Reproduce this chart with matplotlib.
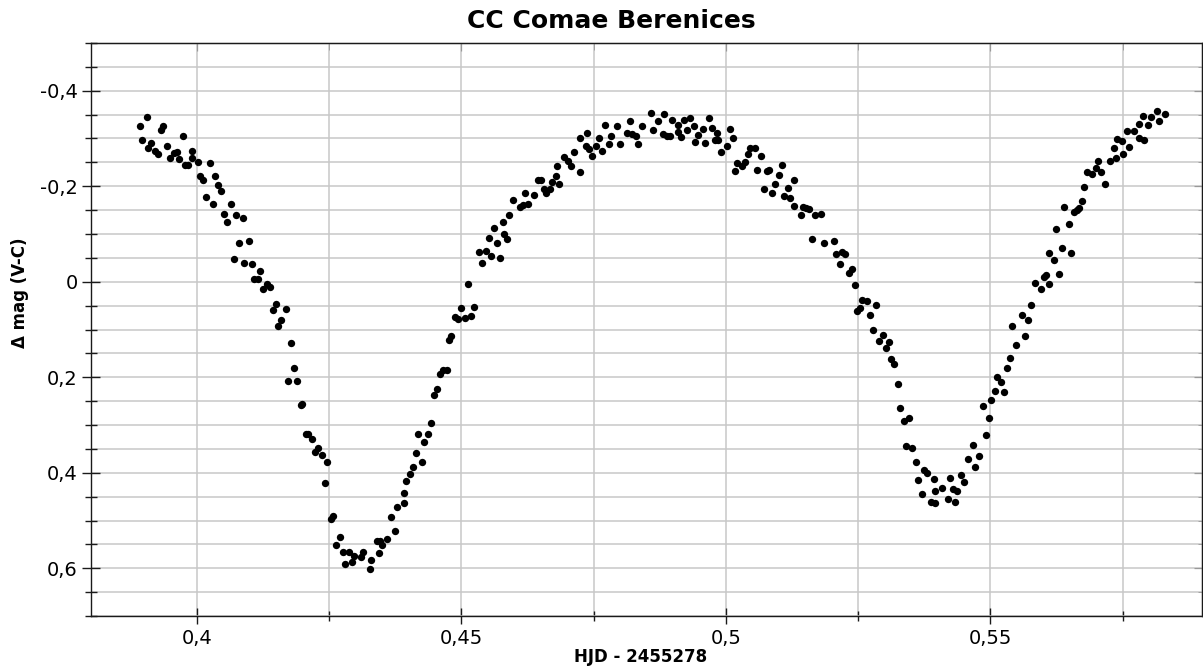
import matplotlib
matplotlib.use("Agg")
import matplotlib.pyplot as plt
from matplotlib.ticker import MultipleLocator, FuncFormatter

# HJD - 2455278 and delta mag (V-C)
hjd = [
    0.3905, 0.3892, 0.3933, 0.3937, 0.3973, 0.3897, 0.3914, 0.3908, 0.3943, 0.3921,
    0.3927, 0.3949, 0.3956, 0.3962, 0.3966, 0.3990, 0.3990, 0.3977, 0.3984, 0.4003,
    0.4024, 0.4006, 0.4011, 0.4035, 0.4040, 0.4046, 0.4017, 0.4030, 0.4065, 0.4052,
    0.4058, 0.4075, 0.4087, 0.4080, 0.4099, 0.4070, 0.4090, 0.4104, 0.4120, 0.4109,
    0.4116, 0.4133, 0.4139, 0.4126, 0.4149, 0.4144, 0.4168, 0.4160, 0.4154, 0.4178,
    0.4184, 0.4173, 0.4190, 0.4199, 0.4196, 0.4210, 0.4207, 0.4218, 0.4229, 0.4224,
    0.4237, 0.4247, 0.4242, 0.4258, 0.4253, 0.4270, 0.4264, 0.4277, 0.4287, 0.4281,
    0.4293, 0.4297, 0.4311, 0.4315, 0.4329, 0.4327, 0.4340, 0.4346, 0.4350, 0.4345,
    0.4360, 0.4374, 0.4368, 0.4392, 0.4378, 0.4391, 0.4396, 0.4403, 0.4408, 0.4425,
    0.4414, 0.4430, 0.4419, 0.4437, 0.4442, 0.4448, 0.4454, 0.4459, 0.4466, 0.4472,
    0.4476, 0.4481, 0.4500, 0.4488, 0.4493, 0.4506, 0.4518, 0.4523,
    0.4512, 0.4533, 0.4547, 0.4540, 0.4557, 0.4573, 0.4567, 0.4552, 0.4562, 0.4581,
    0.4586, 0.4579, 0.4590, 0.4597, 0.4610, 0.4617, 0.4626, 0.4620, 0.4638, 0.4645,
    0.4651, 0.4656, 0.4660, 0.4667, 0.4672, 0.4685, 0.4678, 0.4680, 0.4695, 0.4701,
    0.4708, 0.4713, 0.4725, 0.4724, 0.4737, 0.4735, 0.4742, 0.4747, 0.4755, 0.4760,
    0.4765, 0.4771, 0.4780, 0.4783, 0.4794, 0.4799, 0.4813, 0.4818, 0.4823, 0.4830,
    0.4834, 0.4841, 0.4858, 0.4863, 0.4871, 0.4881, 0.4884, 0.4889, 0.4894, 0.4899,
    0.4909, 0.4910, 0.4916, 0.4920, 0.4927, 0.4932, 0.4939, 0.4942, 0.4947, 0.4956,
    0.4961, 0.4969, 0.4974, 0.4979, 0.4985, 0.4984, 0.4990, 0.5003, 0.5008, 0.5014,
    0.5022, 0.5018,
    0.5046, 0.5055, 0.5042, 0.5066, 0.5036, 0.5031, 0.5059, 0.5077, 0.5081, 0.5106,
    0.5100, 0.5093, 0.5128, 0.5072, 0.5088, 0.5117, 0.5109, 0.5122, 0.5129, 0.5145,
    0.5151, 0.5157, 0.5142, 0.5168, 0.5180, 0.5162, 0.5185, 0.5204, 0.5209, 0.5219,
    0.5226, 0.5215, 0.5232, 0.5239, 0.5244, 0.5257, 0.5266, 0.5284, 0.5254, 0.5247,
    0.5272, 0.5278, 0.5297, 0.5289, 0.5308, 0.5302, 0.5312, 0.5318,
    0.5325, 0.5330, 0.5347, 0.5336, 0.5341, 0.5352, 0.5359, 0.5375, 0.5381, 0.5364,
    0.5394, 0.5371, 0.5396, 0.5408, 0.5423, 0.5444, 0.5450, 0.5429, 0.5436, 0.5388,
    0.5396, 0.5419, 0.5434, 0.5458, 0.5470, 0.5468, 0.5479, 0.5492, 0.5497, 0.5486,
    0.5502, 0.5508, 0.5512, 0.5520, 0.5526, 0.5532, 0.5537, 0.5549, 0.5541, 0.5560,
    0.5571, 0.5566, 0.5576,
    0.5584, 0.5595, 0.5602, 0.5606, 0.5611, 0.5630, 0.5620, 0.5611, 0.5635, 0.5653,
    0.5624, 0.5648, 0.5639, 0.5658, 0.5663, 0.5668, 0.5673, 0.5677, 0.5682, 0.5692,
    0.5699, 0.5709, 0.5717, 0.5704, 0.5726, 0.5733, 0.5738, 0.5751, 0.5762, 0.5740,
    0.5749, 0.5758, 0.5771, 0.5780, 0.5790, 0.5780, 0.5789, 0.5798, 0.5803, 0.5814,
    0.5819, 0.5830,
]
dmag = [
    -0.3453, -0.3270, -0.3187, -0.3270, -0.3061, -0.2977, -0.2908, -0.2794, -0.2851, -0.2732,
    -0.2677, -0.2600, -0.2698, -0.2719, -0.2579, -0.2732, -0.2600, -0.2453, -0.2453, -0.2501,
    -0.2488, -0.2208, -0.2124, -0.2222, -0.2027, -0.1908, -0.1782, -0.1621, -0.1621, -0.1426,
    -0.1258, -0.1390, -0.1342, -0.0803, -0.0853, -0.0476, -0.0384, -0.0363, -0.0216, -0.0063,
    -0.0057, 0.0048, 0.0105, 0.0161, 0.0476, 0.0587, 0.0566, 0.0811, 0.0922, 0.1273,
    0.1803, 0.2082, 0.2082, 0.2551, 0.2585, 0.3180, 0.3193, 0.3285, 0.3474, 0.3570,
    0.3633, 0.3767, 0.4220, 0.4906, 0.4962, 0.5352, 0.5507, 0.5667, 0.5667, 0.5918,
    0.5870, 0.5738, 0.5765, 0.5667, 0.5834, 0.6010, 0.5436, 0.5436, 0.5520, 0.5675,
    0.5381, 0.5214, 0.4933, 0.4627, 0.4723, 0.4430, 0.4172, 0.4019, 0.3872, 0.3780,
    0.3585, 0.3354, 0.3180, 0.3187, 0.2962, 0.2375, 0.2243, 0.1929, 0.1851, 0.1851,
    0.1216, 0.1132, 0.0560, 0.0734, 0.0776, 0.0769, 0.0713, 0.0530,
    0.0057, -0.0614, -0.0644, -0.0384, -0.0530, -0.0497, -0.0803, -0.0908, -0.1117, -0.1000,
    -0.0887, -0.1243, -0.1405, -0.1719, -0.1558, -0.1608, -0.1629, -0.1866, -0.1818, -0.2124,
    -0.2124, -0.1943, -0.1851, -0.1943, -0.2082, -0.2054, -0.2222, -0.2432, -0.2614, -0.2530,
    -0.2417, -0.2711, -0.2291, -0.3019, -0.3109, -0.2845, -0.2782, -0.2627, -0.2851, -0.3019,
    -0.2746, -0.3285, -0.2878, -0.3046, -0.3256, -0.2893, -0.3117, -0.3361, -0.3096, -0.3061,
    -0.2878, -0.3270, -0.3528, -0.3172, -0.3361, -0.3096, -0.3516, -0.3061, -0.3061, -0.3396,
    -0.3291, -0.3130, -0.3025, -0.3381, -0.3187, -0.3432, -0.3270, -0.2929, -0.3075, -0.3201,
    -0.2908, -0.3432, -0.3222, -0.2977, -0.2977, -0.3109, -0.2725, -0.2836, -0.3201, -0.3019,
    -0.2488, -0.2321,
    -0.2809, -0.2809, -0.2683, -0.2627, -0.2501, -0.2417, -0.2342, -0.2312, -0.2348, -0.2438,
    -0.2228, -0.2048, -0.2124, -0.1943, -0.1866, -0.1964, -0.1803, -0.1746, -0.1593, -0.1566,
    -0.1545, -0.1516, -0.1405, -0.1390, -0.1411, -0.0887, -0.0818, -0.0853, -0.0572, -0.0614,
    -0.0572, -0.0363, -0.0174, -0.0266, 0.0063, 0.0377, 0.0413, 0.0497, 0.0551, 0.0614,
    0.0692, 0.1006, 0.1105, 0.1231, 0.1264, 0.1384, 0.1608, 0.1725,
    0.2145, 0.2648, 0.2851, 0.2914, 0.3444, 0.3474, 0.3780, 0.3941, 0.3998, 0.4151,
    0.4124, 0.4438, 0.4375, 0.4319, 0.4103, 0.4040, 0.4199, 0.4333, 0.4381, 0.4606,
    0.4639, 0.4556, 0.4618, 0.3711, 0.3872, 0.3417, 0.3654, 0.3201, 0.2857, 0.2600,
    0.2480, 0.2285, 0.1998, 0.2103, 0.2306, 0.1803, 0.1593, 0.1327, 0.0922, 0.0692,
    0.0811, 0.1132, 0.0482,
    0.0036, 0.0153, -0.0099, -0.0132, 0.0057, -0.0161, -0.0447, -0.0608, -0.0706, -0.0593,
    -0.1096, -0.1216, -0.1572, -0.1461, -0.1509, -0.1545, -0.1683, -0.1977, -0.2306, -0.2264,
    -0.2375, -0.2291, -0.2040, -0.2522, -0.2522, -0.2794, -0.2600, -0.2683, -0.2824, -0.2992,
    -0.2956, -0.3166, -0.3151, -0.3012, -0.2962, -0.3306, -0.3480, -0.3285, -0.3444, -0.3579,
    -0.3369, -0.3516,
]

title = "CC Comae Berenices"
xlabel = "HJD - 2455278"
ylabel = "Δ mag (V-C)"


def comma_fmt(v, pos):
    s = f"{v:.3f}".rstrip("0").rstrip(".")
    if s == "-0":
        s = "0"
    return s.replace(".", ",")


fig = plt.figure(figsize=(12.03, 6.68), dpi=100)
ax = fig.add_axes([91 / 1203, 52 / 668, 1111 / 1203, 573 / 668])

ax.scatter(hjd, dmag, s=28, color="black", marker="o", linewidths=0, zorder=3)

ax.set_xlim(0.38, 0.59)
ax.set_ylim(0.7, -0.5)

ax.xaxis.set_major_locator(MultipleLocator(0.05))
ax.xaxis.set_minor_locator(MultipleLocator(0.025))
ax.yaxis.set_major_locator(MultipleLocator(0.2))
ax.yaxis.set_minor_locator(MultipleLocator(0.05))
ax.xaxis.set_major_formatter(FuncFormatter(comma_fmt))
ax.yaxis.set_major_formatter(FuncFormatter(comma_fmt))

ax.grid(True, which="both", axis="x", color="#c8c8c8", linewidth=1.1)
ax.grid(True, which="both", axis="y", color="#c8c8c8", linewidth=1.1)
ax.set_axisbelow(True)

for side in ["left", "bottom", "top", "right"]:
    ax.spines[side].set_color("#1a1a1a")
    ax.spines[side].set_linewidth(1.0)

ax.tick_params(axis="y", which="major", direction="inout", length=13, width=1,
               labelsize=14, pad=3, colors="#1a1a1a", labelcolor="black")
ax.tick_params(axis="y", which="minor", direction="inout", length=9, width=1,
               colors="#1a1a1a")
ax.tick_params(axis="x", which="major", direction="inout", length=11, width=1,
               labelsize=14, pad=4, colors="#1a1a1a", labelcolor="black")
ax.tick_params(axis="x", which="minor", direction="inout", length=7, width=1,
               colors="#1a1a1a")

# inward ticks on the top and right edges
top = ax.secondary_xaxis("top")
top.xaxis.set_major_locator(MultipleLocator(0.05))
top.xaxis.set_minor_locator(MultipleLocator(0.025))
top.tick_params(which="major", direction="in", length=6, labeltop=False)
top.tick_params(which="minor", direction="in", length=5)
right = ax.secondary_yaxis("right")
right.yaxis.set_major_locator(MultipleLocator(0.2))
right.yaxis.set_minor_locator(MultipleLocator(0.05))
right.tick_params(which="major", direction="in", length=6, labelright=False)
right.tick_params(which="minor", direction="in", length=3)

fig.text(0.508, 0.968, title, ha="center", va="center", fontsize=18,
         fontweight="bold")
ax.set_xlabel(xlabel, fontsize=12, fontweight="bold", labelpad=0)
ax.xaxis.set_label_coords(0.495, -0.055)
ax.set_ylabel(ylabel, fontsize=12, fontweight="bold")
ax.yaxis.set_label_coords(-0.056, 0.564)

fig.savefig("out.png", dpi=100)
